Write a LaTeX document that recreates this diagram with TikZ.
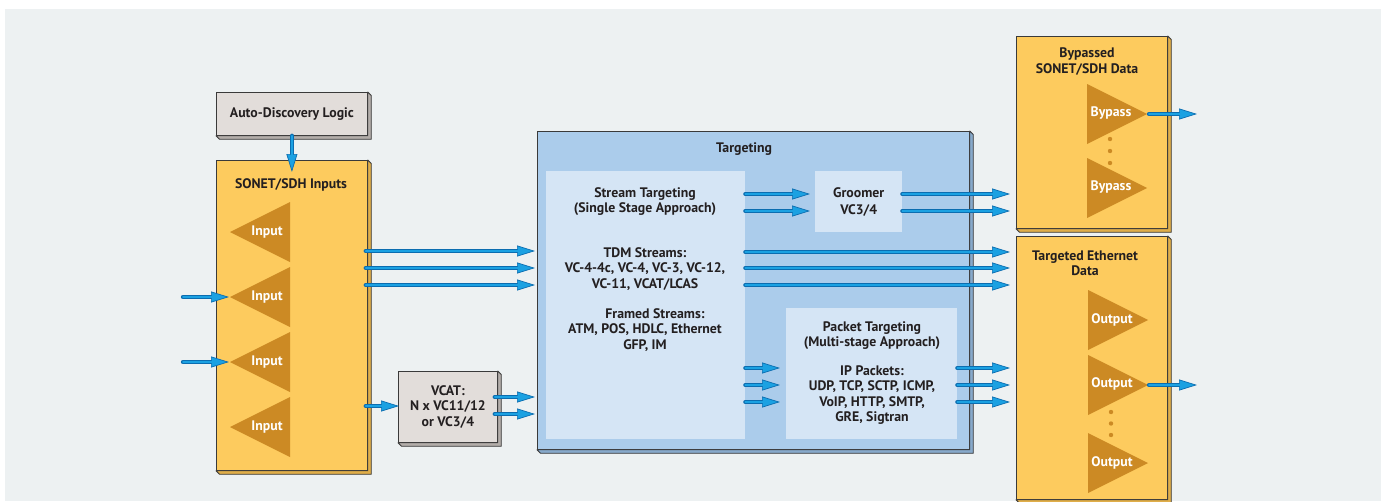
\documentclass[tikz,border=0pt]{standalone}
\usepackage{fontspec}
\setmainfont{PT Sans}
\usetikzlibrary{arrows.meta,calc}

\definecolor{canvas}{HTML}{EDF1F2}
\definecolor{orangeF}{HTML}{FDCB5E}
\definecolor{orangeD}{HTML}{E0AE4A}
\definecolor{triF}{HTML}{CC8A24}
\definecolor{grayF}{HTML}{E2DDDA}
\definecolor{grayD}{HTML}{B3ADA9}
\definecolor{targF}{HTML}{ABCCEB}
\definecolor{targD}{HTML}{87A9CB}
\definecolor{panelF}{HTML}{D5E5F5}
\definecolor{edge}{HTML}{3A3A3A}
\definecolor{blueL}{HTML}{1BA1E2}
\definecolor{blueD}{HTML}{0B6DB0}
\definecolor{ink}{HTML}{231F20}

\tikzset{
  x=1pt, y=-1pt,
  every node/.style={font=\fontsize{13.8}{15.3}\selectfont\bfseries, text=ink, align=center},
  box/.style={draw=edge, line width=0.8pt, anchor=north west, inner sep=0pt},
  panel/.style={fill=panelF, anchor=north west, inner sep=0pt},
  tlabel/.style={text=white},
  flow/.style={draw=blueD, line width=4.4pt, line cap=round,
    -{Triangle[length=18pt,width=11pt,line width=0.7pt,fill=blueL]},
    postaction={draw=blueL, line width=1.8pt, -, shorten >=17pt}},
}

% 3-D edge on the right and bottom of a box
\newcommand\extrude[2]{%
  \filldraw[fill=#2, draw=edge, line width=0.8pt, line join=round]
    (#1.north east) -- ($(#1.north east)+(3.5,3.5)$) -- ($(#1.south east)+(3.5,3.5)$)
    -- ($(#1.south west)+(3.5,3.5)$) -- (#1.south west) -- (#1.south east) -- cycle;}
% left-pointing triangle: apex x, centre y
\newcommand\trileft[2]{\fill[triF] (#1,#2) -- (#1+60,#2-30) -- (#1+60,#2+30) -- cycle;}
% right-pointing triangle: base x, centre y
\newcommand\triright[2]{\fill[triF] (#1,#2-30) -- (#1+60,#2) -- (#1,#2+30) -- cycle;}

\begin{document}
\begin{tikzpicture}
\useasboundingbox (0,0) rectangle (1381,501);
\fill[white] (0,0) rectangle (1381,501);
\fill[canvas] (5,9) rectangle (1381,501);

% ---- boxes ----
\node[box, fill=grayF, minimum width=151pt, minimum height=43pt] (adl) at (216,92) {Auto-Discovery Logic};
\node[box, fill=orangeF, minimum width=151pt, minimum height=310pt] (sonet) at (216,160) {};
\node[box, fill=grayF, minimum width=99pt, minimum height=71pt] (vcat) at (398,371) {VCAT:\\N x VC11/12\\or VC3/4};
\node[box, fill=targF, minimum width=432pt, minimum height=318pt] (targ) at (537,131) {};
\node[box, fill=orangeF, minimum width=151pt, minimum height=192pt] (byp) at (1016,36) {};
\node[box, fill=orangeF, minimum width=151pt, minimum height=263pt] (eth) at (1016,236) {};
\extrude{adl}{grayD}
\extrude{sonet}{orangeD}
\extrude{vcat}{grayD}
\extrude{targ}{targD}
\extrude{byp}{orangeD}
\extrude{eth}{orangeD}

\node[panel, minimum width=199pt, minimum height=268pt] (strm) at (546,171) {};
\node[panel, minimum width=87pt, minimum height=61pt, font=\fontsize{13.8}{16.7}\selectfont\bfseries] (groom) at (815,171) {Groomer\\VC3/4};
\node[panel, minimum width=171pt, minimum height=131pt] (pkt) at (786,308) {};

% ---- titles and texts ----
\node (sonetT) at (291,185) {SONET/SDH Inputs};
\node (targT) at (744,149) {Targeting};
\node (strmT) at (645,201.5) {Stream Targeting\\(Single Stage Approach)};
\node (tdmT) at (645,269) {TDM Streams:\\VC-4-4c, VC-4, VC-3, VC-12,\\VC-11, VCAT/LCAS};
\node (frmT) at (645,330) {\hspace*{20pt}Framed Streams:\\ATM, POS, HDLC, Ethernet\\GFP, IM};
\node (pktT) at (872,335.5) {Packet Targeting\\(Multi-stage Approach)};
\node (ipT) at (872,395) {IP Packets:\\UDP, TCP, SCTP, ICMP,\\VoIP, HTTP, SMTP,\\GRE, Sigtran};
\node (bypT) at (1087,61.5) {Bypassed\\SONET/SDH Data};
\node (ethT) at (1085,263.5) {Targeted Ethernet\\Data};

% ---- input triangles ----
\trileft{230}{232} \trileft{230}{297} \trileft{230}{362} \trileft{230}{427}
\node[tlabel] (in1) at (267,232) {Input};
\node[tlabel] (in2) at (267,297) {Input};
\node[tlabel] (in3) at (267,362) {Input};
\node[tlabel] (in4) at (267,427) {Input};
\coordinate (ap2) at (229,297);
\coordinate (ap3) at (229,362);
\coordinate (src2) at (183,297);
\coordinate (src3) at (183,362);

% ---- bypass and output triangles ----
\triright{1087}{114} \triright{1087}{188}
\triright{1088}{320} \triright{1088}{385} \triright{1088}{463}
\node[tlabel] (bp1) at (1111,113) {Bypass};
\node[tlabel] (bp2) at (1111,187) {Bypass};
\node[tlabel] (op1) at (1112,320) {Output};
\node[tlabel] (op2) at (1112,384) {Output};
\node[tlabel] (op3) at (1112,463) {Output};
\foreach \yy in {139,151,163} \fill[triF] (1110,\yy) circle (2.2);
\foreach \yy in {412,423.5,435} \fill[triF] (1111,\yy) circle (2.2);
\coordinate (bpA) at (1149,114);
\coordinate (opA) at (1149,385);
\coordinate (bpOut) at (1197,114);
\coordinate (opOut) at (1197,385);

% ---- connectors ----
\draw[flow] (adl.south) -- ([yshift=-12pt]sonet.north);
\draw[flow] (src2) -- (ap2);
\draw[flow] (src3) -- (ap3);
\foreach \yy in {251,268,285}
  \draw[flow] ([xshift=-2pt]sonet.east |- 0,\yy) -- ([xshift=-2pt]targ.west |- 0,\yy);
\draw[flow] ([xshift=-2pt]sonet.east |- 0,406) -- ([xshift=1pt]vcat.west |- 0,406);
\foreach \yy in {397,414}
  \draw[flow] ([xshift=-3pt]vcat.east |- 0,\yy) -- ([xshift=-2pt]targ.west |- 0,\yy);
\foreach \yy in {194,211} {
  \draw[flow] (strm.east |- 0,\yy) -- ([xshift=-5pt]groom.west |- 0,\yy);
  \draw[flow] (groom.east |- 0,\yy) -- ([xshift=-6pt]byp.west |- 0,\yy);
}
\foreach \yy in {252,268,285}
  \draw[flow] (strm.east |- 0,\yy) -- ([xshift=-6pt]eth.west |- 0,\yy);
\foreach \yy in {368,385,402} {
  \draw[flow] (strm.east |- 0,\yy) -- ([xshift=-6pt]pkt.west |- 0,\yy);
  \draw[flow] (pkt.east |- 0,\yy) -- ([xshift=-6pt]eth.west |- 0,\yy);
}
\draw[flow] (bpA) -- (bpOut);
\draw[flow] (opA) -- (opOut);
\end{tikzpicture}
\end{document}
